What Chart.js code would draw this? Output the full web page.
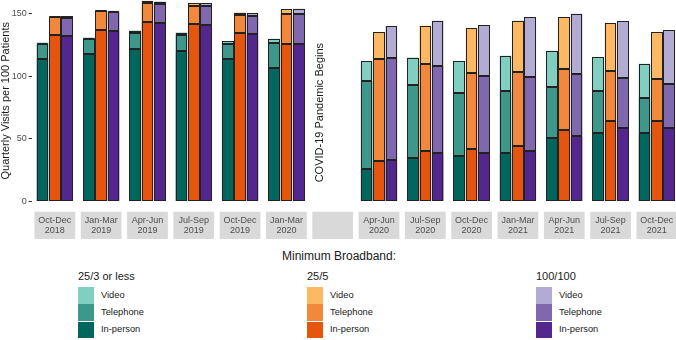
<!DOCTYPE html>
<html>
<head>
<meta charset="utf-8">
<script src="https://cdn.jsdelivr.net/npm/chart.js@4/dist/chart.umd.min.js"></script>
<style>
  html, body { margin: 0; padding: 0; background: #fff; width: 676px; height: 340px; overflow: hidden; }
  body { position: relative; font-family: "Liberation Sans", Arial, sans-serif; }
  #wrap { position: absolute; left: 0; top: 0; width: 680px; height: 242px; }
  .lg { position: absolute; color: #1a1a1a; white-space: nowrap; }
  .title { font-size: 12px; line-height: 12px; }
  .ltitle { font-size: 11px; line-height: 11px; }
  .sw { position: absolute; width: 16px; height: 16.5px; }
  .lab { font-size: 9.3px; line-height: 9px; }
</style>
</head>
<body>
<div id="wrap"><canvas id="c" width="680" height="242"></canvas></div>
<div id="legend"></div>
<script>
// ---- Data ----
const quarterLabels = [
  ['Oct-Dec','2018'], ['Jan-Mar','2019'], ['Apr-Jun','2019'], ['Jul-Sep','2019'],
  ['Oct-Dec','2019'], ['Jan-Mar','2020'], '',
  ['Apr-Jun','2020'], ['Jul-Sep','2020'], ['Oct-Dec','2020'], ['Jan-Mar','2021'],
  ['Apr-Jun','2021'], ['Jul-Sep','2021'], ['Oct-Dec','2021']
];
const broadbandGroups = ['25/3 or less', '25/5', '100/100'];
const visitTypes = ['In-person', 'Telephone', 'Video'];

// 25/3 or less
const low_inPerson  = [114, 117.5, 122, 120, 114, 107, null, 26, 34.5, 36, 38.5, 50.5, 55, 54.5];
const low_telephone = [12, 12, 13, 13, 12, 20, null, 70, 58.5, 51, 49.5, 41, 33.5, 28.5];
const low_video     = [1, 1.5, 1.6, 2, 2, 3, null, 16, 22, 25, 28.5, 29, 27, 27];
// 25/5
const mid_inPerson  = [133, 137, 143.5, 141.5, 134.5, 126, null, 32, 40, 42, 44, 57, 64.5, 64];
const mid_telephone = [14.5, 15, 15, 15, 14.5, 24, null, 81.5, 69.5, 61, 59.5, 49, 40, 34];
const mid_video     = [0.6, 1, 2, 2, 2, 3.5, null, 22, 31, 35.5, 41, 41.5, 38, 37.5];
// 100/100
const high_inPerson  = [132, 136, 142.5, 141, 133.5, 125.5, null, 33, 38.5, 39, 40, 52, 58.5, 59];
const high_telephone = [15, 15.5, 15.5, 15.5, 15, 24, null, 81.5, 70, 61.5, 59.5, 50, 40.5, 34.5];
const high_video     = [1, 1, 1.8, 2, 2, 4.5, null, 25.6, 36, 40.5, 48, 48, 45, 43.5];

const yTickValues = [0, 50, 100, 150];
const pandemicNote = 'COVID-19 Pandemic Begins';

// ---- Styles ----
const palette = {
  '25/3 or less': { 'In-person': '#01665e', 'Telephone': '#3d978b', 'Video': '#80cfc0' },
  '25/5':         { 'In-person': '#e6550d', 'Telephone': '#f1883b', 'Video': '#fdb863' },
  '100/100':      { 'In-person': '#54278f', 'Telephone': '#8068ae', 'Video': '#b2abd3' }
};
const seriesData = {
  '25/3 or less': { 'In-person': low_inPerson, 'Telephone': low_telephone, 'Video': low_video },
  '25/5':         { 'In-person': mid_inPerson, 'Telephone': mid_telephone, 'Video': mid_video },
  '100/100':      { 'In-person': high_inPerson, 'Telephone': high_telephone, 'Video': high_video }
};

const datasets = [];
broadbandGroups.forEach(g => {
  visitTypes.forEach(t => {
    datasets.push({
      label: g + ' ' + t,
      data: seriesData[g][t],
      stack: g,
      backgroundColor: palette[g][t],
      borderWidth: 0,
      inflateAmount: 0,
      categoryPercentage: 0.8,
      barPercentage: 0.94
    });
  });
});

const stripPlugin = {
  id: 'strips',
  beforeDraw(chart) {
    const ctx = chart.ctx, xs = chart.scales.x, area = chart.chartArea;
    const w = xs.width / quarterLabels.length * 0.88;
    ctx.save();
    ctx.fillStyle = '#d9d9d9';
    quarterLabels.forEach((l, i) => {
      const cx = xs.getPixelForValue(i);
      ctx.fillRect(cx - w / 2, area.bottom + 10.2, w, 27.3);
    });
    ctx.restore();
  },
  afterDatasetsDraw(chart) {
    const ctx = chart.ctx, xs = chart.scales.x, ys = chart.scales.y;
    // outlines of every bar segment, from the library's own element geometry
    ctx.save();
    ctx.strokeStyle = '#222222';
    ctx.lineWidth = 1;
    chart.data.datasets.forEach((ds, di) => {
      const meta = chart.getDatasetMeta(di);
      meta.data.forEach((el, i) => {
        if (ds.data[i] == null) return;
        const p = el.getProps(['x', 'y', 'base', 'width'], true);
        const l = Math.round(p.x - p.width / 2) + 0.5;
        const r = Math.round(p.x + p.width / 2) - 0.5;
        const t = Math.round(Math.min(p.y, p.base)) + 0.5;
        const b = Math.round(Math.max(p.y, p.base)) - 0.5;
        ctx.strokeRect(l, t, r - l, b - t);
      });
    });
    ctx.restore();

    const cx = xs.getPixelForValue(6) - 13;
    const cy = ys.getPixelForValue(71);
    ctx.save();
    ctx.translate(cx, cy);
    ctx.rotate(-Math.PI / 2);
    ctx.font = '11px "Liberation Sans", Arial, sans-serif';
    ctx.fillStyle = '#1a1a1a';
    ctx.textAlign = 'center';
    ctx.textBaseline = 'middle';
    ctx.fillText(pandemicNote, 0, 0);
    ctx.restore();
  }
};

new Chart(document.getElementById('c'), {
  type: 'bar',
  data: { labels: quarterLabels, datasets },
  options: {
    responsive: false,
    animation: false,
    layout: { padding: { left: 0, right: 0, top: 0, bottom: 0 } },
    plugins: { legend: { display: false }, tooltip: { enabled: false } },
    scales: {
      x: {
        stacked: true,
        offset: true,
        grid: { display: false, drawTicks: false },
        border: { display: false },
        ticks: {
          autoSkip: false, maxRotation: 0, minRotation: 0,
          padding: 14,
          color: '#4d4d4d',
          font: { family: '"Liberation Sans", Arial, sans-serif', size: 9, lineHeight: 1.08 }
        },
        afterFit(s) { s.height = 242 - 201.5; s.paddingLeft = 0; s.paddingRight = 0; }
      },
      y: {
        stacked: true,
        min: 0, max: 161,
        afterBuildTicks(s) { s.ticks = yTickValues.map(v => ({ value: v })); },
        grid: { display: true, drawOnChartArea: false, drawTicks: true, tickLength: 3, color: '#333333' },
        border: { display: false },
        ticks: {
          padding: 2,
          color: '#4d4d4d',
          font: { family: '"Liberation Sans", Arial, sans-serif', size: 9 }
        },
        title: {
          display: true,
          text: 'Quarterly Visits per 100 Patients',
          color: '#1a1a1a',
          padding: 0,
          font: { family: '"Liberation Sans", Arial, sans-serif', size: 11, lineHeight: 1 }
        },
        afterFit(s) { s.width = 31.7; s.paddingTop = 0; s.paddingBottom = 0; }
      }
    }
  },
  plugins: [stripPlugin]
});

// ---- Legend (HTML text) ----
const legend = document.getElementById('legend');
function addEl(cls, text, left, top, extra) {
  const d = document.createElement('div');
  d.className = 'lg ' + cls;
  if (text) d.textContent = text;
  d.style.left = left + 'px';
  d.style.top = top + 'px';
  if (extra) Object.assign(d.style, extra);
  legend.appendChild(d);
  return d;
}
const t = addEl('title', 'Minimum Broadband:', 0, 249.5);
t.style.width = '678px'; t.style.textAlign = 'center';
const colX = [78, 307, 536];
const legendOrder = ['Video', 'Telephone', 'In-person'];
broadbandGroups.forEach((g, gi) => {
  const x = colX[gi];
  addEl('ltitle', g, x, 271);
  legendOrder.forEach((vt, k) => {
    const top = 287 + k * 17.3;
    addEl('sw', '', x, top, { background: palette[g][vt] });
    addEl('lab', vt, x + 23, top + 3.8);
  });
});
</script>
</body>
</html>
